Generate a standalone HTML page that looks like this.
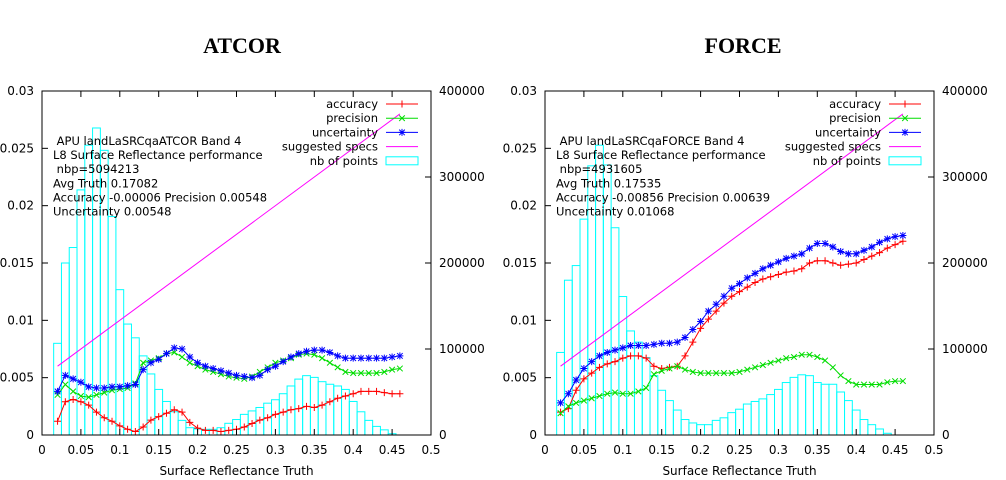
<!DOCTYPE html>
<html><head><meta charset="utf-8"><style>
html,body{margin:0;padding:0;background:#fff;}
svg{display:block;font-family:"DejaVu Sans","Liberation Sans",sans-serif;}
text{white-space:pre;}
</style></head><body>
<svg id="root" width="1006" height="480" viewBox="0 0 1006 480"></svg>
<script>
// ---------- data ----------
const barCenters = [0.02,0.03,0.04,0.05,0.06,0.07,0.08,0.09,0.10,0.11,0.12,0.13,0.14,0.15,0.16,0.17,0.18,0.19,0.20,0.21,0.22,0.23,0.24,0.25,0.26,0.27,0.28,0.29,0.30,0.31,0.32,0.33,0.34,0.35,0.36,0.37,0.38,0.39,0.40,0.41,0.42,0.43,0.44,0.45];
const lineX = [0.02,0.03,0.04,0.05,0.06,0.07,0.08,0.09,0.10,0.11,0.12,0.13,0.14,0.15,0.16,0.17,0.18,0.19,0.20,0.21,0.22,0.23,0.24,0.25,0.26,0.27,0.28,0.29,0.30,0.31,0.32,0.33,0.34,0.35,0.36,0.37,0.38,0.39,0.40,0.41,0.42,0.43,0.44,0.45,0.46];
const xTicks = [0,0.05,0.1,0.15,0.2,0.25,0.3,0.35,0.4,0.45,0.5];
const xTickLabels = ["0","0.05","0.1","0.15","0.2","0.25","0.3","0.35","0.4","0.45","0.5"];
const yTicks = [0,0.005,0.01,0.015,0.02,0.025,0.03];
const yTickLabels = ["0","0.005","0.01","0.015","0.02","0.025","0.03"];
const y2Ticks = [0,100000,200000,300000,400000];
const y2TickLabels = ["0","100000","200000","300000","400000"];

const atcorCounts = [106600,200000,218000,285000,337000,357000,331000,254000,169000,129000,113000,92000,71000,53000,39000,27000,17000,8500,7000,6600,6600,8500,13600,18000,24000,28000,32000,37000,41000,48000,57000,65000,69000,67000,62000,59000,57000,53000,39000,27000,17000,10000,6000,1500];
const atcorAccuracy = [0.0012,0.0029,0.0031,0.0029,0.0026,0.0020,0.0015,0.0012,0.0008,0.0005,0.0003,0.0007,0.0013,0.0016,0.0019,0.0022,0.0020,0.0011,0.0006,0.0004,0.0004,0.0003,0.0004,0.0005,0.0007,0.0010,0.0013,0.0015,0.0018,0.0020,0.0022,0.0023,0.0025,0.0024,0.0026,0.0029,0.0032,0.0034,0.0036,0.0038,0.0038,0.0038,0.0037,0.0036,0.0036];
const atcorPrecision = [0.0035,0.0044,0.0038,0.0034,0.0033,0.0035,0.0037,0.0039,0.0040,0.0041,0.0045,0.0063,0.0065,0.0067,0.0071,0.0072,0.0068,0.0063,0.0060,0.0057,0.0055,0.0053,0.0051,0.0050,0.0049,0.0051,0.0055,0.0059,0.0063,0.0065,0.0067,0.0070,0.0071,0.0070,0.0067,0.0063,0.0059,0.0055,0.0054,0.0054,0.0054,0.0054,0.0055,0.0057,0.0058];
const atcorUncertainty = [0.0038,0.0052,0.0049,0.0046,0.0042,0.0041,0.0041,0.0042,0.0042,0.0043,0.0044,0.0057,0.0063,0.0066,0.0071,0.0076,0.0075,0.0068,0.0063,0.0060,0.0058,0.0056,0.0054,0.0052,0.0051,0.0050,0.0052,0.0057,0.0060,0.0064,0.0068,0.0071,0.0073,0.0074,0.0074,0.0072,0.0069,0.0067,0.0067,0.0067,0.0067,0.0067,0.0067,0.0068,0.0069];

const forceCounts = [96000,180000,197000,251000,313000,337000,314000,241000,161000,121000,108000,90000,69000,52000,40000,29000,18000,14000,12000,12000,17000,20000,26000,30000,36000,39000,42000,47000,53000,61000,67000,70000,69000,61000,59000,59000,50000,40000,29000,18000,12000,7000,2000,0];
const forceAccuracy = [0.0020,0.0023,0.0039,0.0049,0.0054,0.0059,0.0062,0.0064,0.0067,0.0069,0.0069,0.0067,0.0060,0.0058,0.0059,0.0060,0.0069,0.0081,0.0093,0.0101,0.0108,0.0115,0.0121,0.0125,0.0129,0.0133,0.0136,0.0138,0.0140,0.0142,0.0143,0.0145,0.0150,0.0152,0.0152,0.0150,0.0148,0.0149,0.0150,0.0153,0.0156,0.0159,0.0163,0.0166,0.0169];
const forcePrecision = [0.0019,0.0025,0.0028,0.0030,0.0032,0.0034,0.0036,0.0037,0.0036,0.0036,0.0038,0.0041,0.0053,0.0056,0.0058,0.0060,0.0057,0.0055,0.0054,0.0054,0.0054,0.0054,0.0054,0.0055,0.0057,0.0059,0.0061,0.0063,0.0065,0.0067,0.0068,0.0070,0.0070,0.0068,0.0065,0.0059,0.0052,0.0047,0.0044,0.0044,0.0044,0.0044,0.0046,0.0047,0.0047];
const forceUncertainty = [0.0028,0.0036,0.0048,0.0058,0.0064,0.0069,0.0072,0.0074,0.0076,0.0078,0.0078,0.0078,0.0079,0.0080,0.0080,0.0081,0.0085,0.0092,0.0099,0.0108,0.0114,0.0121,0.0128,0.0132,0.0137,0.0141,0.0145,0.0148,0.0151,0.0154,0.0156,0.0158,0.0163,0.0167,0.0167,0.0164,0.0160,0.0158,0.0158,0.0161,0.0164,0.0168,0.0171,0.0173,0.0174];

const specIntercept = 0.005, specSlope = 0.05;

// ---------- drawing ----------
const NS = "http://www.w3.org/2000/svg";
const root = document.getElementById('root');
function mk(tag, attrs, parent){
  const e = document.createElementNS(NS, tag);
  for (const k in attrs) e.setAttribute(k, attrs[k]);
  (parent||root).appendChild(e);
  return e;
}

function drawChart(cfg){
  const L = cfg.left, R = cfg.left + 389, T = 91, B = 435;
  const sx = v => L + v / 0.5 * (R - L);
  const sy = v => B - v / 0.03 * (B - T);
  const sy2 = v => B - v / 400000 * (B - T);
  const g = mk('g', {});
  
  

  const title = mk('text', {x: cfg.titleX, y: 53, 'text-anchor':'middle', 'font-family':'"Liberation Serif",serif', 'font-weight':'bold', 'font-size':'22'}, g);
  title.textContent = cfg.title;
  
  

  const bg = mk('g', {}, g);
  
  
  const bw = sx(0.01) - sx(0);
  cfg.counts.forEach((c, i) => {
    const x0 = sx(barCenters[i]) - bw/2;
    const r = mk('rect', {x: x0, y: sy2(c), width: bw, height: B - sy2(c), fill:'none', stroke:'#00ffff', 'stroke-width':'1'}, bg);
    
    
  });

  const sp = mk('line', {x1: sx(lineX[0]), y1: sy(specIntercept + specSlope*lineX[0]), x2: sx(lineX[lineX.length-1]), y2: sy(specIntercept + specSlope*lineX[lineX.length-1]), stroke:'#ff00ff', 'stroke-width':'1'}, g);
  
  

  function marker(parent, type, x, y, col){
    const s = 3.5;
    let d = '';
    if (type === '+' || type === '*') d += `M${x-s},${y}H${x+s}M${x},${y-s}V${y+s}`;
    if (type === 'x' || type === '*') d += `M${x-s*0.8},${y-s*0.8}L${x+s*0.8},${y+s*0.8}M${x-s*0.8},${y+s*0.8}L${x+s*0.8},${y-s*0.8}`;
    const p = mk('path', {d: d, stroke: col, 'stroke-width':'1', fill:'none'}, parent);
    
    
  }
  function series(vals, col, type, name){
    const sg = mk('g', {}, g);
    
    
    const pts = vals.map((v, i) => sx(lineX[i]).toFixed(1) + ',' + sy(v).toFixed(1)).join(' ');
    mk('polyline', {points: pts, fill:'none', stroke: col, 'stroke-width':'1'}, sg);
    vals.forEach((v, i) => marker(sg, type, sx(lineX[i]), sy(v), col));
  }
  series(cfg.acc, '#ff0000', '+', 'accuracy');
  series(cfg.prec, '#00dd00', 'x', 'precision');
  series(cfg.unc, '#0000ff', '*', 'uncertainty');

  const fr = mk('rect', {x: L, y: T, width: R-L, height: B-T, fill:'none', stroke:'#000', 'stroke-width':'1'}, g);
  
  

  const ax = mk('g', {'font-size':'12', fill:'#000'}, g);
  
  
  xTicks.forEach((v, i) => {
    const x = sx(v);
    mk('path', {d:`M${x},${B}v-6M${x},${T}v6`, stroke:'#000'}, ax);
    const t = mk('text', {x: x, y: 454, 'text-anchor':'middle'}, ax);
    t.textContent = xTickLabels[i];
    
    
  });
  yTicks.forEach((v, i) => {
    const y = sy(v);
    mk('path', {d:`M${L},${y}h6`, stroke:'#000'}, ax);
    const t = mk('text', {x: L-8, y: y+4, 'text-anchor':'end'}, ax);
    t.textContent = yTickLabels[i];
    
    
  });
  y2Ticks.forEach((v, i) => {
    const y = sy2(v);
    mk('path', {d:`M${R},${y}h-6`, stroke:'#000'}, ax);
    const t = mk('text', {x: R+8, y: y+4, 'text-anchor':'start'}, ax);
    t.textContent = y2TickLabels[i];
    
    
  });
  const xt = mk('text', {x: (L+R)/2, y: 475, 'text-anchor':'middle'}, ax);
  xt.textContent = 'Surface Reflectance Truth';
  
  

  const an = mk('g', {'font-size':'11.5'}, g);
  
  
  cfg.notes.forEach((s, i) => {
    const t = mk('text', {x: L + 11, y: 145 + i*14.1}, an);
    t.textContent = s;
  });

  const lg = mk('g', {'font-size':'11.5'}, g);
  
  
  const items = [['accuracy','#ff0000','+'],['precision','#00dd00','x'],['uncertainty','#0000ff','*'],['suggested specs','#ff00ff',''],['nb of points','#00ffff','box']];
  items.forEach((it, i) => {
    const y = 104 + i*14.2;
    const e = mk('g', {}, lg);
    
    
    const t = mk('text', {x: L + 336, y: y+4, 'text-anchor':'end'}, e);
    t.textContent = it[0];
    if (it[2] === 'box') {
      mk('rect', {x: L+344, y: y-4, width: 32, height: 8, fill:'none', stroke: it[1]}, e);
    } else {
      mk('line', {x1: L+344, y1: y, x2: L+376, y2: y, stroke: it[1]}, e);
      if (it[2]) marker(e, it[2], L+360, y, it[1]);
    }
  });
}

drawChart({id:'atcor', title:'ATCOR', titleX:242, left:42, counts: atcorCounts, acc: atcorAccuracy, prec: atcorPrecision, unc: atcorUncertainty,
  notes:[' APU landLaSRCqaATCOR Band 4','L8 Surface Reflectance performance',' nbp=5094213','Avg Truth 0.17082','Accuracy -0.00006 Precision 0.00548','Uncertainty 0.00548']});
drawChart({id:'force', title:'FORCE', titleX:743, left:545, counts: forceCounts, acc: forceAccuracy, prec: forcePrecision, unc: forceUncertainty,
  notes:[' APU landLaSRCqaFORCE Band 4','L8 Surface Reflectance performance',' nbp=4931605','Avg Truth 0.17535','Accuracy -0.00856 Precision 0.00639','Uncertainty 0.01068']});
</script>
</body></html>
